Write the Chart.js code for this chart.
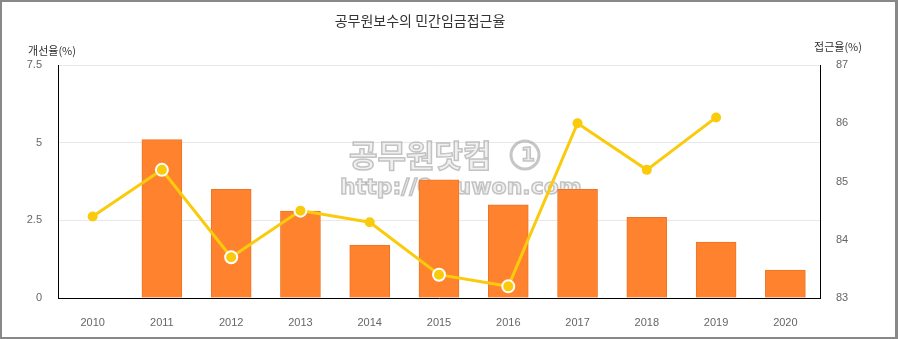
<!DOCTYPE html>
<html>
<head>
<meta charset="utf-8">
<script src="https://cdn.jsdelivr.net/npm/chart.js@4/dist/chart.umd.min.js"></script>
<style>
html,body{margin:0;padding:0;background:#fff;}
#wrap{width:898px;height:339px;position:relative;}
</style>
</head>
<body>
<div id="wrap"><canvas id="c"></canvas></div>
<script>
const years = ['2010','2011','2012','2013','2014','2015','2016','2017','2018','2019','2020'];
const improvementRate = [null, 5.1, 3.5, 2.8, 1.7, 3.8, 3.0, 3.5, 2.6, 1.8, 0.9];
const accessRate = [84.4, 85.2, 83.7, 84.5, 84.3, 83.4, 83.2, 86.0, 85.2, 86.1, null];
const leftTicks = [0, 2.5, 5, 7.5];
const rightTicks = [83, 84, 85, 86, 87];
const titleText = '공무원보수의 민간임금접근율';
const leftTitle = '개선율(%)';
const rightTitle = '접근율(%)';
const pointRing = [0, 2, 2, 2, 0, 2, 2, 0, 0, 0, 0];

const FONT = "'Noto Sans CJK KR', 'Noto Sans', sans-serif";
const NUMFONT = "'Liberation Sans', Arial, sans-serif";

const deco = {
  id: 'deco',
  beforeDatasetsDraw(chart) {
    const ctx = chart.ctx;
    ctx.save();
    ctx.textAlign = 'left';
    ctx.textBaseline = 'middle';
    ctx.lineWidth = 1.5;
    ctx.strokeStyle = 'rgba(160,160,160,0.6)';
    ctx.fillStyle = 'rgba(230,230,230,0.6)';
    ctx.font = "bold 31px 'Noto Sans CJK KR', sans-serif";
    ctx.fillText('공무원닷컴', 349, 155);
    ctx.strokeText('공무원닷컴', 349, 155);
    ctx.beginPath();
    ctx.arc(525, 155, 14, 0, Math.PI * 2);
    ctx.lineWidth = 3;
    ctx.stroke();
    ctx.lineWidth = 1.5;
    ctx.textAlign = 'center';
    ctx.font = "bold 20px 'DejaVu Sans', sans-serif";
    ctx.fillText('1', 528, 156);
    ctx.strokeText('1', 528, 156);
    ctx.textAlign = 'left';
    ctx.font = "bold 22px 'DejaVu Sans', sans-serif";
    ctx.fillText('http://0muwon.com', 340, 188);
    ctx.strokeText('http://0muwon.com', 340, 188);
    ctx.restore();
  },
  afterDraw(chart) {
    const ctx = chart.ctx;
    ctx.save();
    ctx.fillStyle = '#333';
    ctx.textBaseline = 'middle';
    ctx.textAlign = 'center';
    ctx.font = "14px " + FONT;
    ctx.fillText(titleText, 420, 21);
    ctx.font = "11px " + FONT;
    ctx.fillText(leftTitle, 52, 51);
    ctx.fillText(rightTitle, 838, 47);
    ctx.strokeStyle = '#888';
    ctx.lineWidth = 2;
    ctx.strokeRect(1, 1, 896, 337);
    ctx.fillStyle = '#888';
    ctx.fillRect(895, 0, 3, 339);
    ctx.restore();
  }
};

new Chart(document.getElementById('c'), {
  data: {
    labels: years,
    datasets: [
      {
        type: 'line',
        label: '접근율',
        data: accessRate,
        yAxisID: 'y1',
        borderColor: '#FACB0C',
        backgroundColor: '#FACB0C',
        borderWidth: 3,
        pointRadius: ctx => pointRing[ctx.dataIndex] ? 6 : 5,
        pointBackgroundColor: '#FACB0C',
        pointBorderColor: '#ffffff',
        pointBorderWidth: ctx => pointRing[ctx.dataIndex],
        tension: 0,
        spanGaps: false,
        order: 0
      },
      {
        type: 'bar',
        label: '개선율',
        data: improvementRate,
        yAxisID: 'y',
        backgroundColor: '#FF832F',
        borderColor: '#EE7425',
        borderWidth: 1,
        barThickness: 40,
        order: 1
      }
    ]
  },
  options: {
    responsive: true,
    maintainAspectRatio: false,
    animation: false,
    layout: { padding: { top: 65, left: 0, right: 0, bottom: 0 } },
    plugins: { legend: { display: false }, title: { display: false }, tooltip: { enabled: false } },
    scales: {
      x: {
        type: 'category',
        offset: true,
        grid: { display: false, drawTicks: false },
        border: { display: true, color: '#000', width: 1 },
        ticks: { color: '#666', font: { size: 11, family: NUMFONT }, padding: 18, maxRotation: 0 },
        afterFit(s) { s.height = 41; }
      },
      y: {
        position: 'left',
        min: 0, max: 7.5,
        afterBuildTicks(s) { s.ticks = leftTicks.map(v => ({ value: v })); },
        grid: { color: '#e8e8e8', drawTicks: false },
        border: { display: true, color: '#000', width: 1 },
        ticks: { color: '#666', font: { size: 11, family: NUMFONT }, padding: 16 },
        afterFit(s) { s.width = 58; }
      },
      y1: {
        position: 'right',
        min: 83, max: 87,
        afterBuildTicks(s) { s.ticks = rightTicks.map(v => ({ value: v })); },
        grid: { display: false, drawTicks: false },
        border: { display: true, color: '#000', width: 1 },
        ticks: { color: '#666', font: { size: 11, family: NUMFONT }, padding: 16 },
        afterFit(s) { s.width = 78; }
      }
    }
  },
  plugins: [deco]
});
</script>
</body>
</html>
